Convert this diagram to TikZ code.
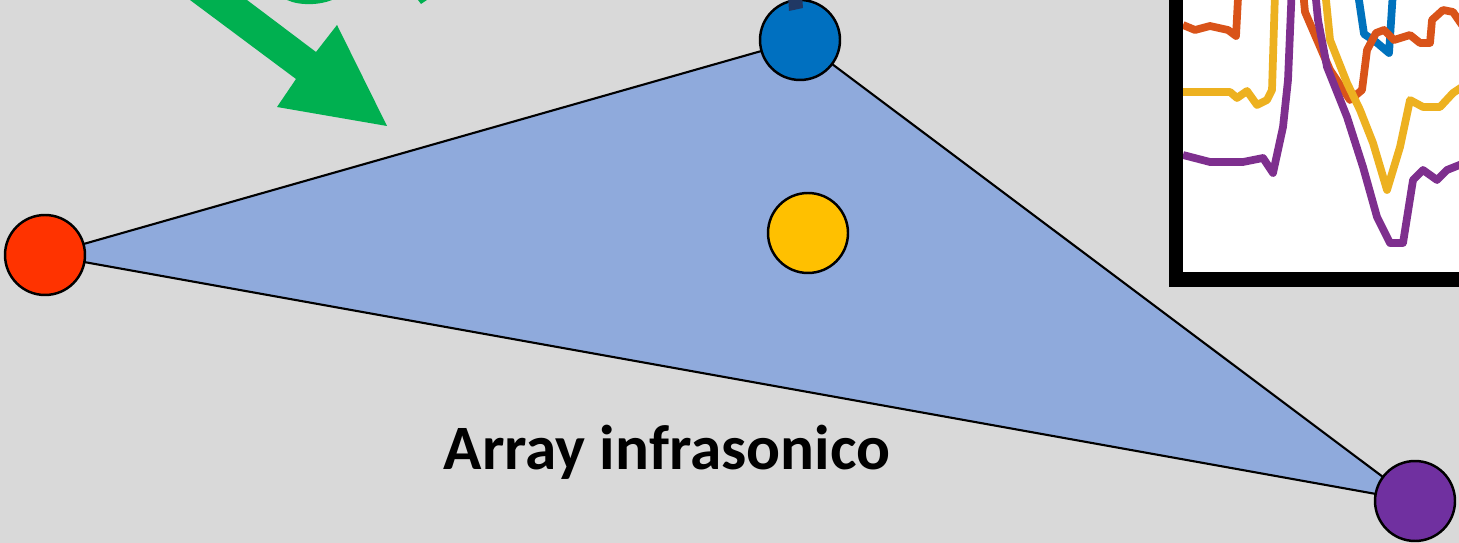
\documentclass[tikz,border=0pt]{standalone}
\usepackage{fontspec}
\setmainfont{Carlito}
\usetikzlibrary{backgrounds}

\definecolor{bggray}{HTML}{D9D9D9}
\definecolor{arrayfill}{HTML}{8FAADC}
\definecolor{sensred}{HTML}{FF3300}
\definecolor{sensblue}{HTML}{0070C0}
\definecolor{sensyellow}{HTML}{FFC000}
\definecolor{senspurple}{HTML}{7030A0}
\definecolor{wavegreen}{HTML}{00B050}
\definecolor{navy}{HTML}{203864}
\definecolor{trorange}{HTML}{D95319}
\definecolor{trblue}{HTML}{0072BD}
\definecolor{tryellow}{HTML}{EDB120}
\definecolor{trpurple}{HTML}{7E2F8E}

\tikzset{
    sensor/.style={circle, draw=black, line width=1.4pt, inner sep=0pt, minimum size=1.6cm},
    trace/.style={line width=4.4pt, line join=round},
}

\begin{document}
\begin{tikzpicture}[x=0.02cm, y=-0.02cm]
    \useasboundingbox (0,0) rectangle (1459,543);
    \begin{scope}[on background layer]
        \fill[bggray] (0,0) rectangle (1459,543);
    \end{scope}

    % sensors of the array
    \node[sensor, fill=sensred] (s1) at (45,255) {};
    \node[sensor, fill=sensblue] (s2) at (800,40) {};
    \node[sensor, fill=sensyellow] (s3) at (808,233) {};
    \node[sensor, fill=senspurple] (s4) at (1415,501) {};

    \begin{scope}[on background layer]
        \draw[fill=arrayfill, line width=1.2pt, line join=round] (s1.center) -- (s2.center) -- (s4.center) -- cycle;
    \end{scope}

    \fill[navy] (788,-5) -- (802,-5) -- (803,8) -- (789,11) -- cycle;

    % incoming wave
    \fill[wavegreen] (190,0) -- (296,79) -- (277,107) -- (387,126) -- (337,25) -- (316,52) -- (247,0) -- cycle;
    \fill[wavegreen] (287,0) .. controls (300,6) and (320,5) .. (332,0) -- cycle;
    \fill[wavegreen] (418,0) -- (427,0) -- (421,4) -- cycle;

    \node[anchor=base, font=\bfseries\fontsize{36}{43}\selectfont] (lbl) at (667,469) {Array infrasonico};

    % recorded signals
    \begin{scope}
        \clip (1183,-30) rectangle (1480,275);
        \fill[white] (1183,-30) rectangle (1480,275);
        \draw[trace, trblue] (1353,-40) -- (1364,34) -- (1376,42) -- (1389,53) -- (1395,-40);
        \draw[trace, trorange] (1183,25) -- (1195,30) -- (1210,26) -- (1228,30) -- (1236,36) -- (1240,-40)
            -- (1300,-40) -- (1305,12) -- (1330,70) -- (1350,100) -- (1362,90) -- (1367,50) -- (1376,33)
            -- (1384,30) -- (1394,40) -- (1410,35) -- (1420,43) -- (1430,43) -- (1432,20) -- (1443,10)
            -- (1453,12) -- (1462,25);
        \draw[trace, tryellow] (1183,92) -- (1230,92) -- (1237,98) -- (1247,91) -- (1257,105) -- (1267,100)
            -- (1272,90) -- (1276,-40) -- (1322,-40) -- (1330,40) -- (1347,83) -- (1360,110) -- (1373,143)
            -- (1387,190) -- (1400,147) -- (1410,100) -- (1423,107) -- (1440,107) -- (1453,93) -- (1462,87);
        \draw[trace, trpurple] (1183,155) -- (1210,162) -- (1243,162) -- (1263,158) -- (1273,173) -- (1283,127)
            -- (1288,80) -- (1293,-40) -- (1312,-40) -- (1318,20) -- (1327,67) -- (1347,117) -- (1363,167)
            -- (1377,217) -- (1390,243) -- (1403,243) -- (1413,180) -- (1423,170) -- (1437,180) -- (1447,170)
            -- (1462,164);
    \end{scope}
    \draw[line width=8pt] (1176,-30) rectangle (1490,279.5);
\end{tikzpicture}
\end{document}
